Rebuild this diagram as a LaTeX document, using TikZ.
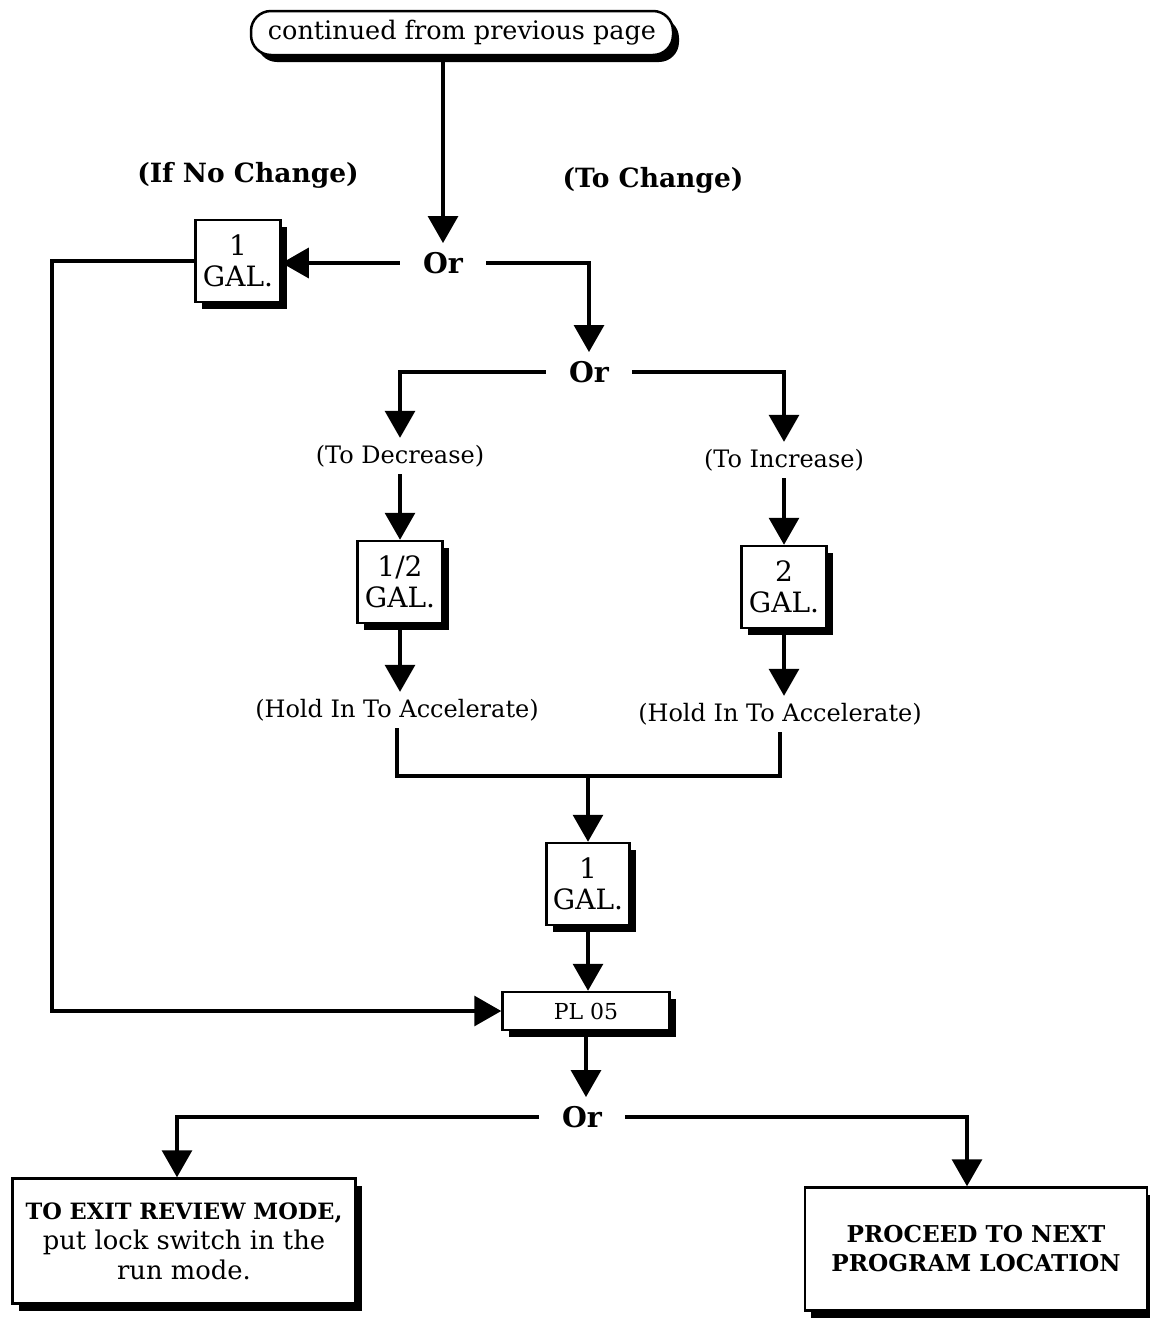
\documentclass[tikz,border=0pt]{standalone}
\usepackage{fontspec}
\setmainfont{DejaVu Serif}
\usetikzlibrary{arrows.meta,shadows,calc}
\begin{document}
\begin{tikzpicture}[x=1pt,y=-1pt,
  conn/.style={line width=3.2pt},
  arr/.style={conn,-{Triangle[length=27pt,width=30pt]}},
  box/.style={draw,line width=2.5pt,fill=white,align=center,inner sep=0pt,
     drop shadow={shadow xshift=6pt,shadow yshift=-7pt,fill=black,opacity=1}},
  galbox/.style={box,minimum width=85pt,minimum height=82pt,font=\fontsize{28}{31}\selectfont},
  ornode/.style={font=\fontsize{28.5}{34}\selectfont\bfseries,inner xsep=23pt,inner ysep=9pt},
  lbl/.style={font=\fontsize{24}{30}\selectfont,inner sep=7pt},
  head/.style={font=\fontsize{26.5}{32}\selectfont\bfseries,inner sep=0pt},
]
\useasboundingbox (0,0) rectangle (1150,1318);
\node[box,rounded corners=20pt,minimum width=422pt,minimum height=44pt,font=\fontsize{25.5}{32}\selectfont] (top) at (462,33) {continued from previous page};
\node[head] (ifno) at (248,175) {(If No Change)};
\node[head] (toch) at (653,180) {(To Change)};
\node[ornode] (or1) at (443,263) {Or};
\node[galbox] (g1) at (238,261) {1\\GAL.};
\node[ornode] (or2) at (589,372) {Or};
\node[lbl] (dec) at (400,456) {(To Decrease)};
\node[lbl] (inc) at (784,460) {(To Increase)};
\node[galbox] (h1) at (400,582) {1/2\\GAL.};
\node[galbox] (h2) at (784,587) {2\\GAL.};
\node[lbl] (hold1) at (397,710) {(Hold In To Accelerate)};
\node[lbl] (hold2) at (780,714) {(Hold In To Accelerate)};
\coordinate (mg) at (588,776);
\node[galbox,minimum width=83pt] (g3) at (588,884) {1\\GAL.};
\node[box,minimum width=167pt,minimum height=38pt,font=\fontsize{22}{26}\selectfont] (pl) at (586,1011) {PL 05};
\node[ornode] (or3) at (582,1117) {Or};
\node[box,minimum width=343pt,minimum height=125pt,font=\fontsize{25.8}{30}\selectfont] (ex) at (184,1241) {{\bfseries\fontsize{22.5}{30}\selectfont TO EXIT REVIEW MODE,}\\put lock switch in the\\run mode.};
\node[box,minimum width=342pt,minimum height=123pt,font=\fontsize{23.2}{29}\selectfont\bfseries] (nx) at (976,1249) {PROCEED TO NEXT\\PROGRAM LOCATION};
\coordinate (lc) at (52,1005);

\draw[arr] (top.south -| or1.north) -- (or1.north);
\draw[arr] (or1.west) -- (or1.west -| g1.east);
\draw[arr] (g1.west) -- (g1.west -| lc) |- (pl.west);
\draw[arr] (or1.east) -| (or2.north);
\draw[arr] (or2.west) -| (dec.north);
\draw[arr] (or2.east) -| (inc.north);
\draw[arr] (dec.south) -- (h1.north);
\draw[arr] (inc.south) -- (h2.north);
\draw[arr] (h1.south) -- (h1.south |- hold1.north);
\draw[arr] (h2.south) -- (h2.south |- hold2.north);
\draw[conn] (hold1.south) |- (mg) -| (hold2.south);
\draw[arr] (mg) -- (g3.north);
\draw[arr] (g3.south) -- (g3.south |- pl.north);
\draw[arr] (pl.south) -- (pl.south |- or3.north);
\draw[arr] (or3.west) -| ([xshift=-7pt]ex.north);
\draw[arr] (or3.east) -| ([xshift=-9pt]nx.north);
\end{tikzpicture}
\end{document}
